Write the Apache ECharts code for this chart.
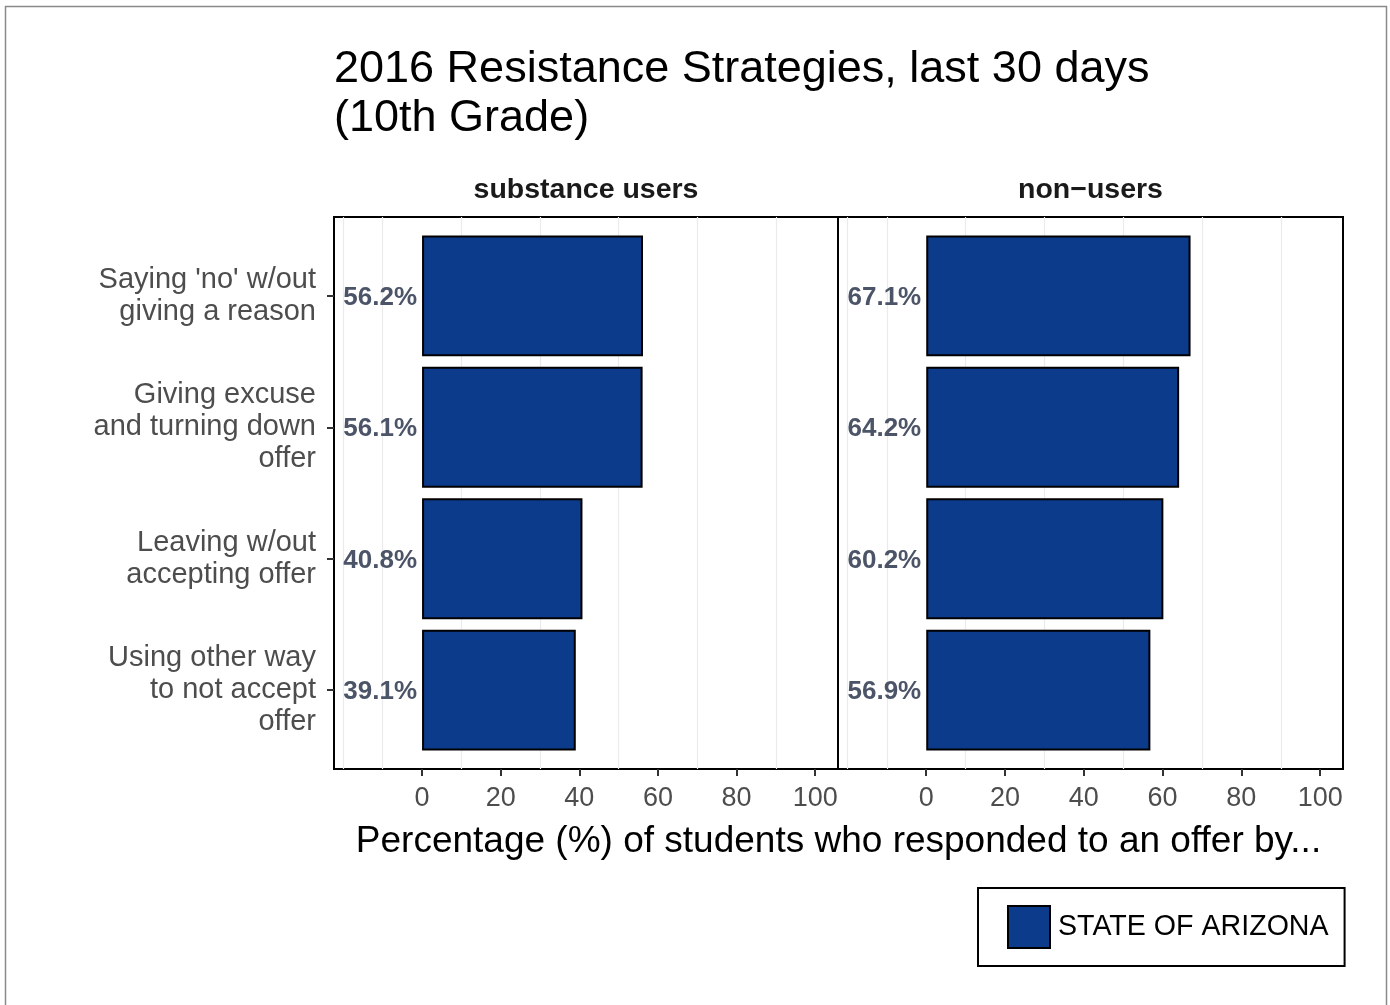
<!DOCTYPE html>
<html>
<head>
<meta charset="utf-8">
<title>2016 Resistance Strategies, last 30 days (10th Grade)</title>
<script src="https://cdn.jsdelivr.net/npm/echarts@6/dist/echarts.min.js"></script>
<style>
  html, body { margin: 0; padding: 0; background: #fff; }
  #chart { width: 1390px; height: 1005px; }
</style>
</head>
<body>
<div id="chart"></div>
<script>
// Response strategies (top to bottom)
const categories = [
  "Saying 'no' w/out\ngiving a reason",
  "Giving excuse\nand turning down\noffer",
  "Leaving w/out\naccepting offer",
  "Using other way\nto not accept\noffer"
];
// Percent of students using each strategy
const substanceUsers = [56.2, 56.1, 40.8, 39.1];
const nonUsers = [67.1, 64.2, 60.2, 56.9];
const panelNames = ['substance users', 'non\u2212users'];
const seriesName = 'STATE OF ARIZONA';
const xTicks = [0, 20, 40, 60, 80, 100];
const minorBreaks = [-20, -10, 10, 30, 50, 70, 90];

const FONT = '"Liberation Sans", Arial, Helvetica, sans-serif';
const X_MIN = -22.4, X_MAX = 105.8;
const BAR_FILL = '#0C3B8B';

// Panel geometry: two facets sharing one y axis
const panels = [
  { left: 334, width: 504 },
  { left: 838, width: 505 }
];
const PANEL_TOP = 217, PANEL_H = 552;
// discrete axis padded by 0.6 of a band on each side (4 categories)
const BAND = PANEL_H / (categories.length + 0.2);
const BAR_TOP = PANEL_TOP + 0.1 * BAND;
const BAR_H = BAND * categories.length;

const chart = echarts.init(document.getElementById('chart'), null, { renderer: 'canvas' });

const grids = [], xAxes = [], yAxes = [], series = [];

panels.forEach((p, i) => {
  // frame grid: border, minor grid lines, x ticks and labels
  grids.push({ left: p.left, top: PANEL_TOP, width: p.width, height: PANEL_H,
    show: true, borderColor: '#000', borderWidth: 2, backgroundColor: 'transparent' });
  xAxes.push({
    gridIndex: i, type: 'value', min: X_MIN, max: X_MAX,
    axisLine: { show: false },
    splitLine: { show: false },
    axisTick: { show: true, customValues: xTicks, length: 7, lineStyle: { color: '#333', width: 2 } },
    axisLabel: { show: true, customValues: xTicks, fontSize: 27, color: '#4D4D4D', fontFamily: FONT, margin: 16 }
  });
  yAxes.push({ gridIndex: i, type: 'value', min: 0, max: 1, show: false });
  series.push({
    type: 'line', xAxisIndex: i, yAxisIndex: i, data: [[X_MIN, 0]],
    showSymbol: false, lineStyle: { width: 0 }, silent: true, z: 1,
    markLine: {
      silent: true, symbol: 'none', label: { show: false }, z: 1,
      lineStyle: { color: '#EBEBEB', width: 1.2, type: 'solid' },
      data: minorBreaks.map(v => ({ xAxis: v }))
    }
  });
});

const panelData = [substanceUsers, nonUsers];
panels.forEach((p, i) => {
  const gi = i + 2;
  grids.push({ left: p.left, top: BAR_TOP, width: p.width, height: BAR_H, show: false });
  xAxes.push({ gridIndex: gi, type: 'value', min: X_MIN, max: X_MAX, show: false });
  yAxes.push({
    gridIndex: gi, type: 'category', data: categories, inverse: true,
    axisLine: { show: false, onZero: false },
    axisTick: { show: i === 0, alignWithLabel: true, length: 7, lineStyle: { color: '#333', width: 2 } },
    axisLabel: {
      show: i === 0, fontSize: 29, lineHeight: 32, color: '#4D4D4D',
      fontFamily: FONT, align: 'right', margin: 18, padding: [4, 0, 0, 0]
    },
    splitLine: { show: false }
  });
  series.push({
    name: seriesName, type: 'bar', xAxisIndex: gi, yAxisIndex: gi,
    data: panelData[i], barWidth: '92%', z: 10,
    itemStyle: { color: BAR_FILL, borderColor: '#000', borderWidth: 2 },
    label: {
      show: true, position: 'left', distance: 5, offset: [0, 2],
      formatter: p => p.value.toFixed(1) + '%',
      fontSize: 26, fontWeight: 'bold', color: '#4C5468', fontFamily: FONT
    }
  });
});

const graphics = [
  // outer plot border
  { type: 'rect', shape: { x: 5.5, y: 6.5, width: 1381, height: 1010 },
    style: { fill: 'none', stroke: '#8A8A8A', lineWidth: 1.5 }, silent: true },
  { type: 'text', x: 334, y: 45,
    style: { text: '2016 Resistance Strategies, last 30 days\n(10th Grade)', fill: '#000',
      font: '45px ' + FONT, lineHeight: 49, align: 'left', verticalAlign: 'top' } },
  { type: 'text', x: 838.5, y: 842,
    style: { text: 'Percentage (%) of students who responded to an offer by...', fill: '#000',
      font: '37px ' + FONT, align: 'center', verticalAlign: 'middle' } }
];
panels.forEach((p, i) => {
  graphics.push({ type: 'text', x: p.left + p.width / 2, y: 190,
    style: { text: panelNames[i], fill: '#1A1A1A', font: 'bold 28.5px ' + FONT,
      align: 'center', verticalAlign: 'middle' } });
});

chart.setOption({
  backgroundColor: '#fff',
  animation: false,
  grid: grids,
  xAxis: xAxes,
  yAxis: yAxes,
  series: series,
  legend: {
    data: [seriesName], left: 978, top: 888,
    padding: [17, 16, 17, 29], itemWidth: 42, itemHeight: 42,
    borderColor: '#000', borderWidth: 2, backgroundColor: '#fff',
    icon: 'rect', selectedMode: false,
    itemStyle: { color: BAR_FILL, borderColor: '#000', borderWidth: 2 },
    textStyle: { fontSize: 28.6, color: '#000', fontFamily: FONT, padding: [5, 0, 0, 3] }
  },
  graphic: graphics
});
</script>
</body>
</html>
